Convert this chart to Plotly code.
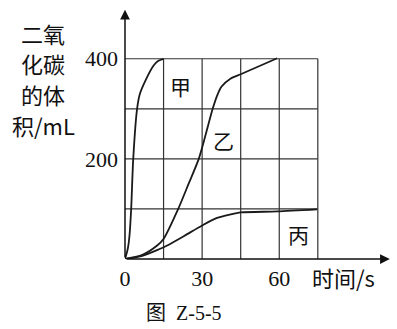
import plotly.graph_objects as go

# data
t_jia = [0, 1.1, 1.75, 2.4, 3.2, 4.7, 5.8, 7.9, 11.2, 13, 15]
v_jia = [0, 21, 47, 100, 200, 300, 330, 356, 387, 396, 400]

t_yi = [0, 7, 12.5, 15, 20.7, 24.8, 28.7, 31.3, 34.1, 35.8, 37.5, 41, 45, 59.2]
v_yi = [0, 9, 27, 40, 100, 151, 200, 247, 300, 326, 344, 360, 369, 401]

t_bing = [0, 6, 13, 16.4, 23, 30, 35.8, 41, 45, 59.2, 74.7]
v_bing = [0, 5, 19, 27, 46, 67, 82, 89, 93, 95, 99]

x_grid = [15, 30, 45, 60, 75]
y_grid = [100, 200, 300, 400]
x_ticks = [0, 30, 60]
x_ticktext = ["0", "30", "60"]
y_ticks = [200, 400]
y_ticktext = ["200", "400"]

labels = ["甲", "乙", "丙"]
label_pos = [(21.5, 345), (38.5, 237), (67.5, 50)]

x_max, y_max = 75, 400

fig = go.Figure()
line_col = "#1a1a1a"
for tt, vv in [(t_jia, v_jia), (t_yi, v_yi), (t_bing, v_bing)]:
    fig.add_trace(go.Scatter(x=tt, y=vv, mode="lines",
                             line=dict(color=line_col, width=1.8, shape="spline", smoothing=0.7),
                             showlegend=False, hoverinfo="skip"))

shapes = []
grid_col = "#333"
for gx in x_grid:
    shapes.append(dict(type="line", xref="x", yref="y", x0=gx, x1=gx, y0=0, y1=y_max,
                       line=dict(color=grid_col, width=1.2), layer="below"))
for gy in y_grid:
    shapes.append(dict(type="line", xref="x", yref="y", x0=0, x1=x_max, y0=gy, y1=gy,
                       line=dict(color=grid_col, width=1.2), layer="below"))

annotations = []
# axis arrows
annotations.append(dict(x=103, y=0, ax=0, ay=0, xref="x", yref="y", axref="x", ayref="y",
                        showarrow=True, arrowhead=2, arrowsize=1.3, arrowwidth=1.5,
                        arrowcolor="#111", text=""))
annotations.append(dict(x=0, y=498, ax=0, ay=0, xref="x", yref="y", axref="x", ayref="y",
                        showarrow=True, arrowhead=2, arrowsize=1.3, arrowwidth=1.5,
                        arrowcolor="#111", text=""))

cjk = "Noto Sans CJK SC"
serif = "Liberation Serif"
for lab, (lx, ly) in zip(labels, label_pos):
    annotations.append(dict(x=lx, y=ly, xref="x", yref="y", text=lab, showarrow=False,
                            font=dict(family=cjk, size=21, color="#111")))

W, H = 397, 329
ML, MB = 125, 70
pw, ph = W - ML, H - MB


def pix(px, py, text, size, family):
    return dict(x=(px - ML) / pw, y=(H - MB - py) / ph, xref="paper", yref="paper",
                xanchor="center", yanchor="middle", text=text, showarrow=False,
                font=dict(family=family, size=size, color="#111"))


# x-axis title
annotations.append(pix(343, 277, "时间/s", 22, cjk + ", " + serif))
# y-axis title lines
for i, line in enumerate(["二氧", "化碳", "的体", "积/mL"]):
    annotations.append(pix(43, 33 + i * 30.5, line, 22, cjk + ", " + serif))
# caption
annotations.append(pix(184, 313, "图  Z-5-5", 20, serif + ", " + cjk))

fig.update_layout(
    width=W, height=H,
    margin=dict(l=ML, r=0, t=0, b=MB),
    paper_bgcolor="white", plot_bgcolor="white",
    shapes=shapes, annotations=annotations,
    xaxis=dict(range=[0, 105.8], showgrid=False, zeroline=False, showline=False,
               tickvals=x_ticks, ticktext=x_ticktext, ticks="", ticklabelstandoff=4,
               tickfont=dict(family=serif, size=22, color="#111")),
    yaxis=dict(range=[0, 517.4], showgrid=False, zeroline=False, showline=False,
               tickvals=y_ticks, ticktext=y_ticktext, ticks="", ticklabelstandoff=6,
               tickfont=dict(family=serif, size=22, color="#111")),
)

fig.write_html("out.html")
